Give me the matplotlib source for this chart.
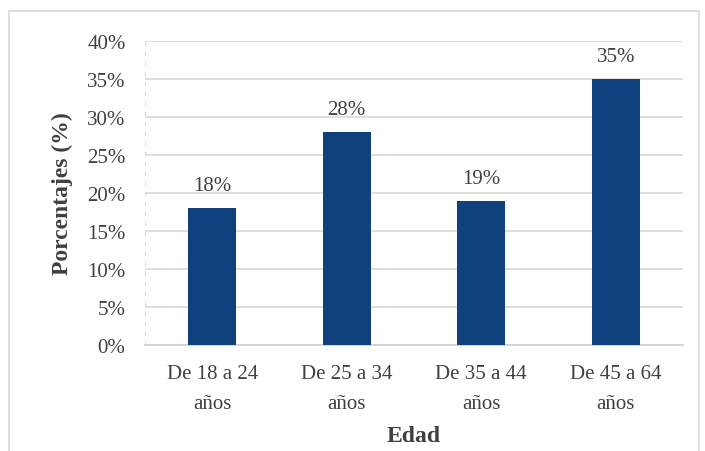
import matplotlib
matplotlib.use("Agg")
import matplotlib.pyplot as plt
from matplotlib.patches import Rectangle
from matplotlib.ticker import FuncFormatter

categories = ['De 18 a 24\naños', 'De 25 a 34\naños', 'De 35 a 44\naños', 'De 45 a 64\naños']
values = [18, 28, 19, 35]
yticks = [0, 5, 10, 15, 20, 25, 30, 35, 40]

plt.rcParams['font.family'] = ['Liberation Serif', 'DejaVu Serif']

fig = plt.figure(figsize=(7.05, 4.52), dpi=100)
ax = fig.add_axes([145 / 705, 1 - 346 / 452, 538 / 705, 304 / 452])

# outer frame around the chart
fig.patches.append(Rectangle((9 / 705, -0.01), 690 / 705, 1 - 12 / 452 + 0.01,
                             transform=fig.transFigure, facecolor='none',
                             edgecolor='#d9d9d9', linewidth=1.2))

x = range(len(categories))
bars = ax.bar(x, values, width=0.36, color='#0f417d', zorder=3)
for xi, v in zip(x, values):
    ax.text(xi, v + 1.7, f'{v}%', ha='center', va='bottom', fontsize=15, color='#404040')

ax.set_ylim(0, 40)
ax.set_xlim(-0.5, len(categories) - 0.5)
ax.set_yticks(yticks)
ax.yaxis.set_major_formatter(FuncFormatter(lambda v, p: f'{v:.0f}%'))
ax.set_xticks(list(x))
ax.set_xticklabels(categories, linespacing=1.75)
ax.tick_params(axis='both', length=0, labelsize=15, colors='#404040')
ax.tick_params(axis='y', pad=14)
ax.tick_params(axis='x', pad=14)
ax.grid(axis='y', color='#d9d9d9', linewidth=1.2, zorder=0)

for s in ['top', 'right']:
    ax.spines[s].set_visible(False)
ax.spines['left'].set_color('#d9d9d9')
ax.spines['left'].set_linestyle((0, (3, 6)))
ax.spines['bottom'].set_color('#d0d0d0')
ax.spines['bottom'].set_linewidth(1.2)

ax.set_ylabel('Porcentajes (%)', fontsize=17, fontweight='bold', color='#404040')
ax.set_xlabel('Edad', fontsize=17, fontweight='bold', color='#404040')
ax.yaxis.set_label_coords(-(145 - 62) / 538, 0.5)
ax.xaxis.set_label_coords(0.5, -(437 - 346) / 304)
ax.xaxis.label.set_va('center')
ax.yaxis.label.set_va('center')

fig.savefig('out.png', dpi=100)
